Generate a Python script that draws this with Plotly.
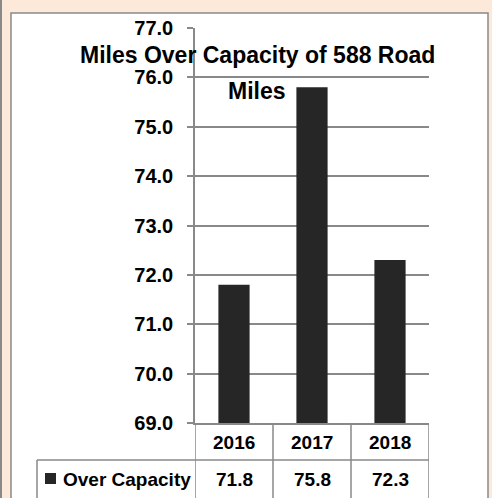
import plotly.graph_objects as go

years = ["2016", "2017", "2018"]
over_capacity = [71.8, 75.8, 72.3]
series_name = "Over Capacity"
title_line1 = "Miles Over Capacity of 588 Road"
title_line2 = "Miles"
y_ticks = [69, 70, 71, 72, 73, 74, 75, 76, 77]

W, H = 492, 498
L, R, T, B = 195, 429, 28, 423  # plot area pixel box

def xp(px):
    return (px - L) / (R - L)

def yp(py):
    return (B - py) / (B - T)

GRAY = "#898989"
PEACH = "#FDE9D9"
BAR = "#262626"
FONT = "Liberation Sans"

fig = go.Figure()
fig.add_trace(go.Bar(x=years, y=over_capacity, marker=dict(color=BAR, line=dict(width=0)),
                     width=0.4, name=series_name, showlegend=False))

shapes = []
shapes.append(dict(type="rect", xref="paper", yref="paper", x0=xp(11), x1=xp(488), y0=yp(520), y1=yp(13),
                   fillcolor="white", line=dict(color=GRAY, width=1.5), layer="below"))
shapes.append(dict(type="rect", xref="paper", yref="paper", x0=xp(-2), x1=xp(2), y0=yp(520), y1=yp(-5),
                   fillcolor=GRAY, line=dict(width=0), layer="below"))
for k in range(len(years) + 1):
    xb = k - 0.5
    shapes.append(dict(type="line", xref="x", yref="paper", x0=xb, x1=xb, y0=yp(423), y1=yp(520),
                       line=dict(color=GRAY, width=1.5)))
shapes.append(dict(type="line", xref="paper", yref="paper", x0=xp(37), x1=xp(37), y0=yp(460), y1=yp(520),
                   line=dict(color=GRAY, width=1.5)))
shapes.append(dict(type="line", xref="paper", yref="paper", x0=xp(37), x1=xp(429), y0=yp(460), y1=yp(460),
                   line=dict(color=GRAY, width=1.5)))
shapes.append(dict(type="rect", xref="paper", yref="paper", x0=xp(45), x1=xp(56), y0=yp(484), y1=yp(473),
                   fillcolor=BAR, line=dict(width=0)))

annotations = []
annotations.append(dict(text=title_line1, xref="paper", yref="paper", x=xp(257), y=yp(55),
                        showarrow=False, xanchor="center", yanchor="middle",
                        font=dict(family=FONT, size=23, color="black", weight="bold")))
annotations.append(dict(text=title_line2, xref="paper", yref="paper", x=xp(257), y=yp(91),
                        showarrow=False, xanchor="center", yanchor="middle",
                        font=dict(family=FONT, size=23, color="black", weight="bold")))
for i, (yr, v) in enumerate(zip(years, over_capacity)):
    annotations.append(dict(text=yr, xref="x", yref="paper", x=i, y=yp(442),
                            showarrow=False, xanchor="center", yanchor="middle",
                            font=dict(family=FONT, size=19, color="black", weight="bold")))
    annotations.append(dict(text=f"{v:.1f}", xref="x", yref="paper", x=i, y=yp(480),
                            showarrow=False, xanchor="center", yanchor="middle",
                            font=dict(family=FONT, size=19, color="black", weight="bold")))
annotations.append(dict(text=series_name, xref="paper", yref="paper", x=xp(61), y=yp(480),
                        showarrow=False, xanchor="left", yanchor="middle",
                        font=dict(family=FONT, size=19, color="black", weight="bold")))

fig.update_layout(
    width=W, height=H,
    margin=dict(l=L, r=W - R, t=T, b=H - B, pad=0),
    paper_bgcolor=PEACH, plot_bgcolor="rgba(0,0,0,0)",
    shapes=shapes, annotations=annotations,
    xaxis=dict(type="category", range=[-0.5, len(years) - 0.5], autorange=False,
               showticklabels=False, ticks="", showgrid=False,
               showline=True, linecolor=GRAY, linewidth=1.5, zeroline=False, fixedrange=True),
    yaxis=dict(range=[69, 77], autorange=False, tickvals=y_ticks, tickformat=".1f", ticks="outside", ticklen=6,
               tickcolor=GRAY, tickwidth=1.5, showline=True, linecolor=GRAY, linewidth=1.5,
               showgrid=True, gridcolor=GRAY, gridwidth=1.5, zeroline=False,
               ticklabelstandoff=10,
               tickfont=dict(family=FONT, size=20, color="black", weight="bold")),
    showlegend=False,
)

fig.write_html("out.html", config={"displayModeBar": False},
               post_script="document.body.style.margin='0';document.body.style.overflow='hidden';")
